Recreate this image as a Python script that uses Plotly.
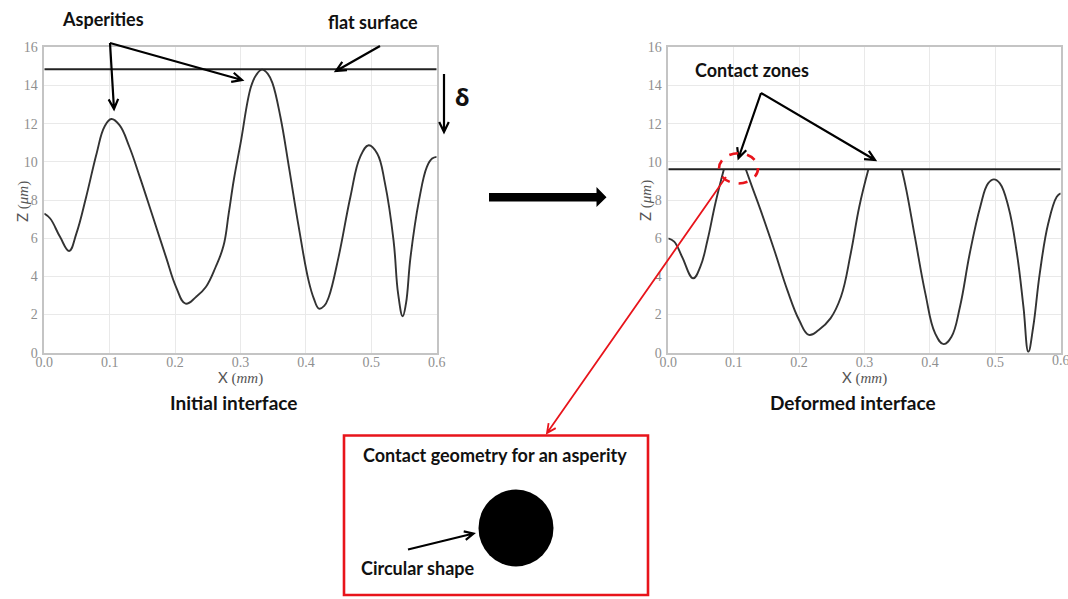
import math
import plotly.graph_objects as go

# ---- profile data (X in mm, Z in µm) ----
x_initial = [0.000, 0.009, 0.024, 0.038, 0.049, 0.064, 0.080, 0.092, 0.1025, 0.115,
             0.130, 0.146, 0.166, 0.186, 0.2015, 0.216, 0.232, 0.247, 0.262, 0.274,
             0.282, 0.290, 0.300, 0.316, 0.324, 0.333, 0.342, 0.349, 0.361, 0.374,
             0.389, 0.404, 0.412, 0.420, 0.428, 0.435, 0.450, 0.468, 0.483, 0.496,
             0.509, 0.521, 0.534, 0.541, 0.548, 0.553, 0.560, 0.573, 0.585, 0.593,
             0.600]
z_initial = [7.29, 7.03, 6.07, 5.33, 6.24, 8.16, 10.44, 11.84, 12.24, 11.92,
             10.79, 9.21, 7.12, 5.02, 3.44, 2.57, 2.92, 3.44, 4.49, 5.60,
             7.30, 9.10, 10.95, 13.93, 14.55, 14.83, 14.60, 14.11, 12.36, 9.74,
             6.59, 3.79, 2.85, 2.31, 2.45, 2.92, 5.02, 8.16, 10.26, 10.87,
             10.44, 8.86, 5.89, 3.09, 1.91, 2.57, 5.02, 7.99, 9.74, 10.17,
             10.26]
flat_initial = 14.85

x_deformed = [0.000, 0.009, 0.021, 0.038, 0.049, 0.060, 0.072, 0.085, 0.1185, 0.128,
              0.141, 0.162, 0.182, 0.200, 0.215, 0.230, 0.248, 0.264, 0.279, 0.292,
              0.306, 0.357, 0.364, 0.377, 0.393, 0.408, 0.421, 0.433, 0.446, 0.461,
              0.477, 0.489, 0.498, 0.507, 0.520, 0.533, 0.543, 0.5505, 0.558, 0.568,
              0.581, 0.594, 0.600]
z_deformed = [5.99, 5.82, 5.03, 3.90, 4.51, 5.90, 7.83, 9.61, 9.61, 8.70,
              7.48, 5.38, 3.28, 1.71, 0.93, 1.19, 1.80, 2.93, 5.21, 7.65,
              9.61, 9.61, 8.52, 6.08, 3.11, 1.01, 0.45, 0.84, 2.41, 5.21,
              7.65, 8.87, 9.08, 8.87, 7.65, 5.21, 2.41, 0.05, 1.36, 4.16,
              6.78, 8.17, 8.35]
flat_deformed = 9.61

x_ticks = [0.0, 0.1, 0.2, 0.3, 0.4, 0.5, 0.6]
z_ticks = [0, 2, 4, 6, 8, 10, 12, 14, 16]

# ---- page geometry helpers (pixels -> paper fractions) ----
W, H = 1068, 599


def px(x):
    return x / W


def py(y):
    return 1 - y / H


def open_arrow(x0, y0, x1, y1, head=11, spread=0.45):
    """SVG path (paper coords) of a line with an open V head at (x1, y1)."""
    ang = math.atan2(y1 - y0, x1 - x0)
    hx1 = x1 - head * math.cos(ang - spread)
    hy1 = y1 - head * math.sin(ang - spread)
    hx2 = x1 - head * math.cos(ang + spread)
    hy2 = y1 - head * math.sin(ang + spread)
    return (f"M {px(x0)} {py(y0)} L {px(x1)} {py(y1)} "
            f"M {px(hx1)} {py(hy1)} L {px(x1)} {py(y1)} L {px(hx2)} {py(hy2)}")


fig = go.Figure()
profile_line = dict(color="#333333", width=1.9, shape="spline", smoothing=1.2)

# initial profile
fig.add_trace(go.Scatter(x=x_initial, y=z_initial, mode="lines", line=profile_line,
                         xaxis="x", yaxis="y", hoverinfo="skip"))
fig.add_trace(go.Scatter(x=[0, 0.6], y=[flat_initial, flat_initial], mode="lines",
                         line=dict(color="#222222", width=1.8),
                         xaxis="x", yaxis="y", hoverinfo="skip"))

# deformed profile: split into free segments, contact parts lie on the flat surface
segments, cur = [], [0]
for i in range(1, len(x_deformed)):
    if z_deformed[i] == flat_deformed and z_deformed[i - 1] == flat_deformed:
        segments.append(cur)
        cur = [i]
    else:
        cur.append(i)
segments.append(cur)
for seg in segments:
    fig.add_trace(go.Scatter(x=[x_deformed[i] for i in seg], y=[z_deformed[i] for i in seg],
                             mode="lines", line=profile_line,
                             xaxis="x2", yaxis="y2", hoverinfo="skip"))
fig.add_trace(go.Scatter(x=[0, 0.6], y=[flat_deformed, flat_deformed], mode="lines",
                         line=dict(color="#222222", width=1.8),
                         xaxis="x2", yaxis="y2", hoverinfo="skip"))

tick_font = dict(family="Liberation Serif", size=14, color="#8f8f8f")
title_font = dict(family="Liberation Serif", size=15, color="#555555")


def xaxis(domain, anchor):
    return dict(domain=domain, anchor=anchor, range=[0, 0.6], tickvals=x_ticks,
                ticktext=[f"{v:.1f}" for v in x_ticks], tickfont=tick_font,
                showgrid=True, gridcolor="#e9e9e9", gridwidth=1, zeroline=False,
                showline=True, mirror=True, linecolor="#c4c4c4", linewidth=1.5,
                ticks="", ticklabelstandoff=-4, automargin=False)


def yaxis(domain, anchor):
    return dict(domain=domain, anchor=anchor, range=[0, 16], tickvals=z_ticks,
                tickfont=tick_font, showgrid=True, gridcolor="#e9e9e9", gridwidth=1,
                zeroline=False, showline=True, mirror=True, linecolor="#c4c4c4",
                linewidth=1.5, ticks="", ticklabelstandoff=2, automargin=False)


ydom = [py(352.7), py(47.3)]
fig.update_layout(
    width=W, height=H, margin=dict(l=0, r=0, t=0, b=0),
    paper_bgcolor="white", plot_bgcolor="white", showlegend=False,
    xaxis=xaxis([px(44.3), px(436.7)], "y"),
    yaxis=yaxis(ydom, "x"),
    xaxis2=xaxis([px(668.3), px(1060.7)], "y2"),
    yaxis2=yaxis(ydom, "x2"),
)

# axis titles placed explicitly under / beside each panel
x_title = "<span style='font-family:Lato'>X</span> (<i>mm</i>)"
z_title = "<span style='font-family:Lato'>Z</span> (<i>μm</i>)"
for cx, zx in [(240.5, 22), (864.5, 645)]:
    fig.add_annotation(text=x_title, x=px(cx), y=py(377), xref="paper", yref="paper",
                       showarrow=False, xanchor="center", yanchor="middle", font=title_font)
    fig.add_annotation(text=z_title, x=px(zx), y=py(201), xref="paper", yref="paper",
                       showarrow=False, xanchor="center", yanchor="middle", textangle=-90,
                       font=title_font)
# last tick label of the right panel sits at the page edge
fig.add_annotation(text=f"{x_ticks[-1]:.1f}", x=x_ticks[-1], y=py(360), xref="x2",
                   yref="paper", showarrow=False, xanchor="center", yanchor="middle",
                   font=tick_font)

shapes = []
black = dict(color="black", width=2.2)
# pointers onto the asperities and flat surface
shapes.append(dict(type="path", path=open_arrow(110, 43, 114, 109), line=black))
shapes.append(dict(type="path", path=open_arrow(110, 43, 242, 80), line=black))
shapes.append(dict(type="path", path=open_arrow(380, 46, 336, 71), line=black))
# approach distance delta
shapes.append(dict(type="path", path=open_arrow(444, 74, 444, 132), line=black))
# contact zone pointers
shapes.append(dict(type="path", path=open_arrow(761, 93, 738.5, 158), line=black))
shapes.append(dict(type="path", path=open_arrow(761, 93, 875, 160), line=black))

# big transition arrow between the two states
shaft_top, shaft_bot, head_top, head_bot = 193, 201.5, 187, 207
arrow_path = (f"M {px(489)} {py(shaft_top)} L {px(596.5)} {py(shaft_top)} "
              f"L {px(596.5)} {py(head_top)} L {px(606.5)} {py(197.2)} "
              f"L {px(596.5)} {py(head_bot)} L {px(596.5)} {py(shaft_bot)} "
              f"L {px(489)} {py(shaft_bot)} Z")
shapes.append(dict(type="path", path=arrow_path, fillcolor="black", line=dict(width=0)))

# highlighted contact zone and link to the detail box
red = "#e8141b"
shapes.append(dict(type="circle", x0=px(719), x1=px(758), y0=py(183.5), y1=py(153.3),
                   line=dict(color=red, width=2.6, dash="dash")))
shapes.append(dict(type="path", path=open_arrow(726, 177, 547, 433, head=10),
                   line=dict(color=red, width=1.8)))
shapes.append(dict(type="rect", x0=px(344), x1=px(648), y0=py(595), y1=py(435.5),
                   line=dict(color=red, width=2.6)))
# contact geometry disc
shapes.append(dict(type="circle", x0=px(478.5), x1=px(553.5), y0=py(566.5), y1=py(489.5),
                   fillcolor="black", line=dict(width=0)))
shapes.append(dict(type="path", path=open_arrow(408, 549.5, 473.5, 533.5, head=10), line=black))

for s in shapes:
    s.setdefault("xref", "paper")
    s.setdefault("yref", "paper")
fig.update_layout(shapes=shapes)


def label(text, x, y, size=18, family="Lato"):
    fig.add_annotation(text=f"<b>{text}</b>", x=px(x), y=py(y), xref="paper", yref="paper",
                       showarrow=False, xanchor="center", yanchor="middle",
                       font=dict(family=family, size=size, color="#111111"))


label("Asperities", 103, 19)
label("flat surface", 373, 22)
label("δ", 462, 96, size=24, family="Noto Sans")
label("Contact zones", 752, 70)
label("Initial interface", 233, 402, size=19)
label("Deformed interface", 853, 402, size=19)
label("Contact geometry for an asperity", 495, 455)
label("Circular shape", 418, 568)

fig.write_html("out.html",
               post_script="document.body.style.margin='0';document.body.style.overflow='hidden';")
